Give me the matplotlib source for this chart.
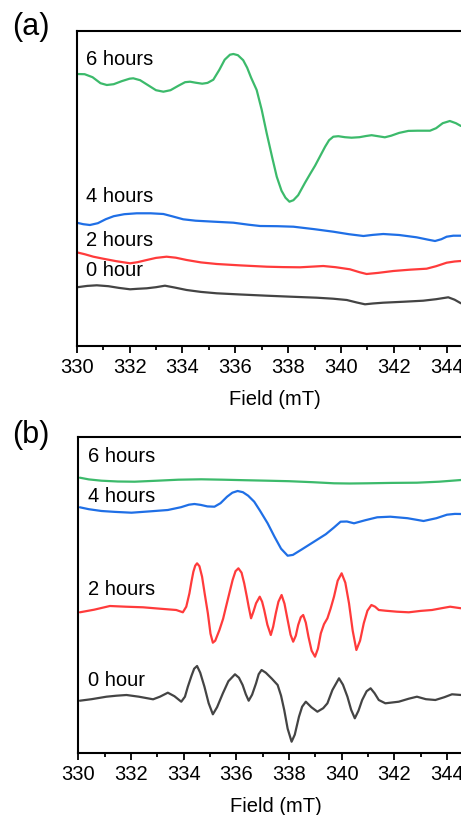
import matplotlib
matplotlib.use("Agg")
import matplotlib.pyplot as plt
from matplotlib.ticker import MultipleLocator

plt.rcParams['font.family'] = ['Liberation Sans', 'DejaVu Sans']

# ---------------- Panel (a) data ----------------
a6_x = [330.0, 330.3, 330.6, 330.9, 331.14, 331.4, 331.7, 332.0, 332.14, 332.4, 332.7, 333.0, 333.28,
        333.55, 333.85, 334.1, 334.29, 334.5, 334.75, 334.95, 335.17, 335.4, 335.6, 335.8, 335.93,
        336.1, 336.3, 336.45, 336.6, 336.81, 337.0, 337.19, 337.4, 337.57, 337.75, 337.9, 338.05,
        338.2, 338.38, 338.64, 338.85, 339.02, 339.2, 339.4, 339.55, 339.71, 339.9, 340.15, 340.4,
        340.7, 340.95, 341.16, 341.4, 341.66, 341.9, 342.2, 342.55, 342.9, 343.37, 343.6, 343.85,
        344.12, 344.35, 344.54]
a6_y = [271.7, 271.5, 268.5, 262.5, 260.7, 261.5, 264.5, 267.0, 267.4, 265.5, 260.5, 255.5, 254.0,
        255.5, 260.0, 263.5, 264.0, 263.0, 262.0, 262.8, 266.0, 276.0, 286.0, 291.0, 291.7,
        290.5, 285.5, 278.0, 268.0, 255.7, 236.0, 212.4, 188.0, 169.0, 155.0, 148.0, 144.0,
        145.5, 150.5, 163.0, 172.5, 180.0, 189.0, 199.0, 205.5, 209.0, 209.5, 208.5, 208.0,
        208.5, 209.7, 210.5, 209.5, 208.4, 210.0, 212.8, 214.8, 215.0, 215.0, 217.5, 222.5,
        224.7, 222.5, 219.7]

a4_x = [330.0, 330.25, 330.5, 330.8, 331.1, 331.4, 331.8, 332.27, 332.8, 333.28, 333.6, 334.03,
        334.5, 335.2, 335.93, 336.5, 336.94, 337.6, 338.2, 339.0, 339.71, 340.3, 340.85, 341.2,
        341.6, 342.2, 342.86, 343.3, 343.56, 343.8, 344.0, 344.25, 344.54]
a4_y = [123.0, 121.5, 120.7, 122.5, 126.5, 129.5, 131.5, 132.4, 132.4, 131.7, 129.5, 126.4,
        125.0, 124.0, 123.0, 121.0, 119.7, 119.5, 119.0, 116.5, 114.0, 111.5, 109.7, 110.8,
        111.7, 110.7, 108.4, 106.0, 104.7, 106.5, 109.0, 110.0, 110.0]

a2_x = [330.0, 330.3, 330.63, 331.0, 331.5, 332.02, 332.3, 332.65, 333.0, 333.4, 333.75, 334.16,
        334.7, 335.3, 336.2, 337.19, 337.8, 338.45, 339.0, 339.33, 339.8, 340.34, 340.7, 340.97,
        341.4, 341.98, 342.6, 343.24, 343.6, 344.0, 344.3, 344.54]
a2_y = [93.4, 91.5, 89.0, 87.0, 84.5, 82.4, 83.5, 85.7, 87.8, 89.0, 88.0, 85.7,
        83.3, 81.7, 80.3, 79.0, 78.6, 78.4, 79.2, 79.7, 78.5, 76.4, 73.5, 71.7,
        72.8, 74.7, 76.0, 77.0, 79.5, 83.0, 84.2, 84.7]

a0_x = [330.0, 330.4, 330.76, 331.2, 331.6, 332.02, 332.3, 332.65, 333.0, 333.34, 333.7, 334.16,
        334.7, 335.3, 336.2, 337.19, 338.1, 339.08, 339.7, 340.22, 340.6, 340.91, 341.2, 341.6,
        342.4, 343.11, 343.6, 344.06, 344.3, 344.54]
a0_y = [58.4, 59.8, 60.4, 59.5, 57.8, 56.4, 56.9, 57.4, 58.5, 60.0, 58.2, 55.7,
        53.8, 52.4, 51.2, 50.0, 49.0, 48.0, 47.0, 45.7, 43.2, 41.4, 42.2, 43.0,
        44.0, 45.0, 46.5, 48.4, 46.0, 42.4]

# ---------------- Panel (b) data ----------------
b6_x = [330.06, 330.4, 330.88, 331.5, 332.14, 333.0, 333.8, 334.67, 335.5, 336.3, 337.19, 338.0,
        338.9, 339.71, 340.3, 340.97, 341.9, 342.86, 343.7, 344.54]
b6_y = [275.0, 273.3, 272.0, 271.2, 271.0, 272.0, 273.0, 273.4, 273.0, 272.5, 272.0, 271.5,
        270.5, 269.4, 269.2, 269.4, 269.8, 270.0, 271.0, 272.7]

b4_x = [330.06, 330.4, 330.88, 331.4, 332.02, 332.7, 333.4, 333.9, 334.2, 334.41, 334.65, 334.9,
        335.17, 335.4, 335.65, 335.85, 336.05, 336.25, 336.45, 336.68, 336.9, 337.19, 337.45,
        337.7, 337.95, 338.15, 338.5, 338.95, 339.4, 339.7, 339.96, 340.2, 340.47, 340.9, 341.35,
        341.85, 342.5, 343.11, 343.6, 344.0, 344.3, 344.54]
b4_y = [245.4, 243.5, 241.7, 240.8, 240.0, 241.3, 242.7, 245.5, 248.0, 248.7, 247.8, 246.3,
        246.0, 249.5, 256.0, 260.0, 261.7, 260.5, 257.0, 251.0, 242.0, 229.4, 216.0,
        204.0, 197.0, 197.8, 203.5, 211.0, 218.5, 225.0, 231.0, 231.2, 229.4, 232.5, 235.4,
        236.0, 234.5, 231.7, 234.5, 238.0, 238.8, 238.7]

b2_x = [330.06, 330.6, 331.2, 331.8, 332.46, 333.1, 333.72, 333.97, 334.1, 334.22, 334.3, 334.37,
        334.44, 334.51, 334.6, 334.7, 334.8, 334.92, 335.02, 335.11, 335.2, 335.36, 335.5, 335.61,
        335.75, 335.86, 335.97, 336.08, 336.2, 336.3, 336.4, 336.47, 336.56, 336.65, 336.75,
        336.89, 336.98, 337.06, 337.18, 337.31, 337.4, 337.5, 337.6, 337.72, 337.83, 337.95,
        338.06, 338.16, 338.26, 338.35, 338.45, 338.54, 338.64, 338.74, 338.86, 338.99, 339.1,
        339.21, 339.33, 339.46, 339.58, 339.71, 339.85, 340.0, 340.14, 340.28, 340.42, 340.56,
        340.7, 340.84, 340.98, 341.13, 341.27, 341.41, 341.66, 342.1, 342.55, 343.0, 343.43,
        343.8, 344.12, 344.54]
b2_y = [140.4, 143.0, 146.7, 146.0, 145.4, 144.0, 142.7, 140.4, 146.0, 159.4, 171.5, 181.0,
        187.0, 189.4, 186.5, 176.0, 159.0, 139.4, 119.0, 110.0, 112.0, 122.7, 134.0, 146.0,
        161.0, 172.7, 181.5, 184.4, 180.0, 169.4, 156.0, 146.0, 134.4, 141.0, 149.4,
        156.0, 151.0, 142.7, 128.0, 117.7, 126.0, 139.4, 151.0, 157.7, 149.0, 132.7,
        118.0, 111.0, 117.0, 127.7, 135.5, 137.7, 130.0, 116.0, 102.0, 96.0, 104.0,
        119.4, 128.5, 134.4, 144.0, 156.0, 172.0, 179.4, 170.0, 149.4, 122.0, 102.7,
        112.0, 129.4, 142.0, 147.7, 146.0, 142.7, 142.0, 141.0, 140.4, 141.8, 142.7,
        144.5, 146.0, 144.4]

b0_x = [330.06, 330.5, 331.07, 331.45, 331.83, 332.3, 332.84, 333.1, 333.4, 333.65, 333.91, 334.05,
        334.16, 334.3, 334.4, 334.51, 334.63, 334.79, 334.95, 335.11, 335.27, 335.49, 335.7,
        335.95, 336.1, 336.24, 336.36, 336.47, 336.6, 336.75, 336.85, 336.96, 337.12, 337.35,
        337.57, 337.7, 337.82, 337.95, 338.1, 338.22, 338.38, 338.5, 338.64, 338.85, 339.08,
        339.3, 339.46, 339.65, 339.9, 340.05, 340.22, 340.36, 340.5, 340.64, 340.78, 340.95,
        341.1, 341.25, 341.41, 341.66, 342.17, 342.55, 342.86, 343.2, 343.56, 343.9, 344.19, 344.54]
b0_y = [52.0, 53.5, 56.0, 57.0, 57.7, 56.0, 53.4, 56.0, 60.0, 56.5, 51.0, 56.0,
        66.0, 77.0, 84.0, 86.7, 80.0, 66.0, 49.5, 38.4, 45.5, 59.4, 71.5,
        78.4, 75.0, 67.7, 58.5, 52.0, 58.0, 69.4, 78.5, 82.7, 80.0, 74.0,
        67.7, 57.0, 42.7, 24.0, 11.0, 18.0, 36.0, 46.0, 51.0, 45.5, 41.0,
        44.5, 49.4, 62.7, 74.4, 68.0, 56.0, 43.0, 34.4, 42.0, 52.7, 61.5,
        64.4, 59.5, 52.7, 49.4, 51.0, 54.0, 56.0, 53.5, 52.7, 55.5, 58.4, 57.7]

labels = ["6 hours", "4 hours", "2 hours", "0 hour"]
colors = ['#3cba6b', '#1f6fe6', '#ff3b3b', '#444444']

W, H = 461, 815
fig = plt.figure(figsize=(W / 100, H / 100), dpi=100)

ax_a = fig.add_axes([76.7 / W, (H - 345.7) / H, 396.4 / W, 314.7 / H])
ax_b = fig.add_axes([78.3 / W, (H - 752.7) / H, 395.0 / W, 316.0 / H])

series_a = [(a6_x, a6_y), (a4_x, a4_y), (a2_x, a2_y), (a0_x, a0_y)]
series_b = [(b6_x, b6_y), (b4_x, b4_y), (b2_x, b2_y), (b0_x, b0_y)]
label_pos_a = [0.911, 0.4735, 0.3327, 0.2383]
label_pos_b = [0.9367, 0.810, 0.5149, 0.230]

for ax, series, lpos, ytop in [(ax_a, series_a, label_pos_a, 314.7), (ax_b, series_b, label_pos_b, 316.0)]:
    for (xs, ys), c in zip(series, colors):
        ax.plot(xs, ys, color=c, lw=1.6, solid_joinstyle='round', solid_capstyle='round')
    for lab, yp in zip(labels, lpos):
        ax.text(0.0235, yp, lab, transform=ax.transAxes, fontsize=14.5, va='center', ha='left')
    ax.set_xlim(330, 345)
    ax.set_ylim(0, ytop)
    ax.set_yticks([])
    ax.xaxis.set_major_locator(MultipleLocator(2))
    ax.xaxis.set_minor_locator(MultipleLocator(1))
    ax.tick_params(axis='x', which='major', direction='out', length=5, width=1.3, labelsize=14.5, pad=4)
    ax.tick_params(axis='x', which='minor', direction='out', length=3, width=1.3)
    for s in ax.spines.values():
        s.set_linewidth(1.5)
    ax.set_xlabel("Field (mT)", fontsize=14.5, labelpad=9)

fig.text(12 / W, 1 - 27 / H, "(a)", fontsize=22, va='center', ha='left')
fig.text(12 / W, 1 - 435 / H, "(b)", fontsize=22, va='center', ha='left')

fig.savefig("out.png", dpi=100)
